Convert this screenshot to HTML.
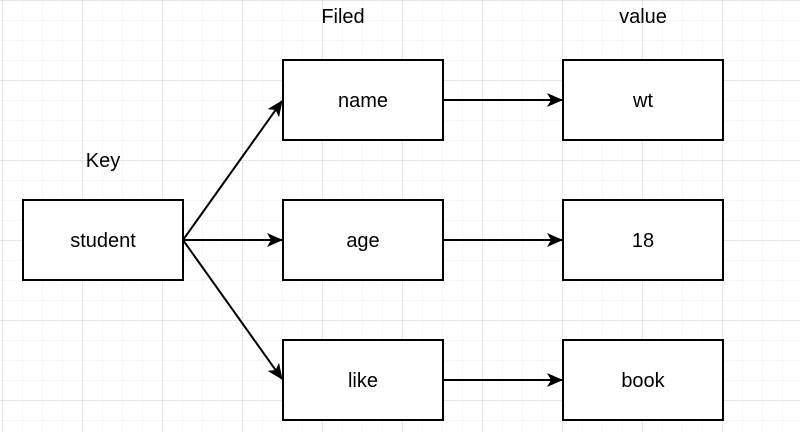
<!DOCTYPE html>
<html><head><style>
body{margin:0;width:800px;height:432px;overflow:hidden;background:#fff}
</style></head><body>
<svg width="800" height="432" xmlns="http://www.w3.org/2000/svg" font-family="Liberation Sans, sans-serif">
<defs>
<pattern id="mi" width="20" height="20" patternUnits="userSpaceOnUse" x="2" y="0">
<path d="M0 0H20M0 0V20" stroke="#efefef" stroke-width="1" fill="none"/>
</pattern>
<pattern id="ma" width="80" height="80" patternUnits="userSpaceOnUse" x="2" y="0">
<path d="M0 0H80M0 0V80" stroke="#d0d0d0" stroke-width="1" fill="none"/>
</pattern>
<marker id="a" markerWidth="16" markerHeight="14" refX="15" refY="7" orient="auto" markerUnits="userSpaceOnUse">
<path d="M0 0L16 7L0 14L4 7Z" fill="#000"/>
</marker>
</defs>
<rect width="800" height="432" fill="url(#mi)"/>
<rect width="800" height="432" fill="url(#ma)"/>
<g fill="#fff" stroke="#000" stroke-width="2">
<rect x="23" y="200" width="160" height="80"/>
<rect x="283" y="60" width="160" height="80"/>
<rect x="283" y="200" width="160" height="80"/>
<rect x="283" y="340" width="160" height="80"/>
<rect x="563" y="60" width="160" height="80"/>
<rect x="563" y="200" width="160" height="80"/>
<rect x="563" y="340" width="160" height="80"/>
</g>
<g stroke="#000" stroke-width="2" fill="none" marker-end="url(#a)">
<path d="M183 240L282 101"/>
<path d="M183 240L282 240"/>
<path d="M183 240L282 379"/>
<path d="M443 100L562 100"/>
<path d="M443 240L562 240"/>
<path d="M443 380L562 380"/>
</g>
<g font-size="20" text-anchor="middle" fill="#000">
<text x="103" y="247">student</text>
<text x="363" y="107">name</text>
<text x="363" y="247">age</text>
<text x="363" y="387">like</text>
<text x="643" y="107">wt</text>
<text x="643" y="247">18</text>
<text x="643" y="387">book</text>
<text x="103" y="167">Key</text>
<text x="343" y="23">Filed</text>
<text x="643" y="23">value</text>
</g>
</svg>
</body></html>
